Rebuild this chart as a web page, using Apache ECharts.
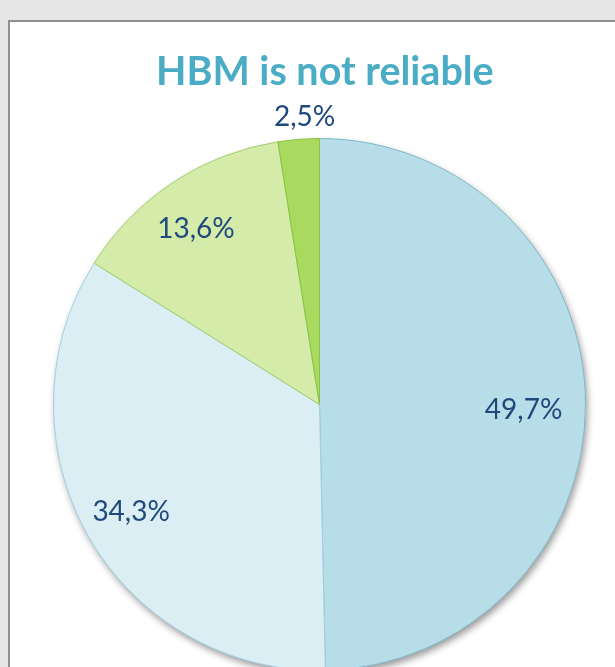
<!DOCTYPE html>
<html>
<head>
<meta charset="utf-8">
<script src="https://cdn.jsdelivr.net/npm/echarts@6/dist/echarts.min.js"></script>
<style>
  html, body { margin: 0; padding: 0; background: #e6e6e6; overflow: hidden; }
  #panel {
    position: absolute; left: 8px; top: 20px; width: 700px; height: 800px;
    background: #fff; border-top: 2px solid #8f8f8f; border-left: 2px solid #8f8f8f;
  }
  #chart { position: absolute; left: 0; top: 0; width: 615px; height: 667px; }
</style>
</head>
<body>
<div id="panel"></div>
<div id="chart"></div>
<script>
var titleText = 'HBM is not reliable'
var labels = ['49,7%', '34,3%', '13,6%', '2,5%']
var values = [49.7, 34.3, 13.6, 2.5]
var colors = ['#b7dde8', '#dbeef4', '#d4eba9', '#a9d95f']
var borders = ['#7fb7c8', '#9fd0e0', '#9fd06a', '#86c444']

// small nudges so the labels sit where the original put them
var labelNudgeX = [-9, -3, -6, 8]
var labelNudgeY = [8, 2, 2, 3]

var myChart = echarts.init(document.getElementById('chart'))

var R = 266
var center = [319.5, 404.5]

function sliceData(fn) {
  return values.map(function (v, i) {
    return fn(v, i)
  })
}

function nudge(p) {
  return { dx: labelNudgeX[p.dataIndex], dy: labelNudgeY[p.dataIndex] }
}

var labelStyle = {
  show: true,
  position: 'inside',
  fontFamily: 'Lato',
  fontSize: 28,
  color: '#1f497d',
  formatter: function (p) { return labels[p.dataIndex] }
}

var option = {
  backgroundColor: 'transparent',
  animation: false,
  title: {
    text: titleText,
    left: 151,
    top: 47,
    textStyle: {
      fontFamily: 'Lato',
      fontWeight: 'bold',
      fontSize: 39.5,
      color: '#4bacc6'
    }
  },
  series: [
    // shadow underneath
    {
      type: 'pie',
      silent: true,
      center: center,
      radius: R,
      startAngle: 90,
      label: { show: false },
      labelLine: { show: false },
      itemStyle: {
        color: '#ffffff',
        shadowBlur: 7,
        shadowOffsetX: 2,
        shadowOffsetY: 4,
        shadowColor: 'rgba(0,0,0,0.4)'
      },
      data: sliceData(function (v) { return { value: v } })
    },
    // the slices
    {
      type: 'pie',
      silent: true,
      center: center,
      radius: R,
      startAngle: 90,
      label: { show: false },
      labelLine: { show: false },
      data: sliceData(function (v, i) {
        return {
          value: v,
          itemStyle: { color: colors[i], borderColor: borders[i], borderWidth: 1 }
        }
      })
    },
    // labels inside the pie
    {
      type: 'pie',
      silent: true,
      center: center,
      radius: [R * 0.58, R],
      startAngle: 90,
      itemStyle: { color: 'transparent' },
      labelLine: { show: false },
      label: labelStyle,
      labelLayout: nudge,
      data: sliceData(function (v, i) {
        return { value: v, label: { show: i < 3 } }
      })
    },
    // label for the thin slice, just outside
    {
      type: 'pie',
      silent: true,
      center: center,
      radius: [R * 1.04, R * 1.13],
      startAngle: 90,
      itemStyle: { color: 'transparent' },
      labelLine: { show: false },
      label: labelStyle,
      labelLayout: nudge,
      data: sliceData(function (v, i) {
        return { value: v, label: { show: i == 3 } }
      })
    }
  ]
}

myChart.setOption(option)
</script>
</body>
</html>
